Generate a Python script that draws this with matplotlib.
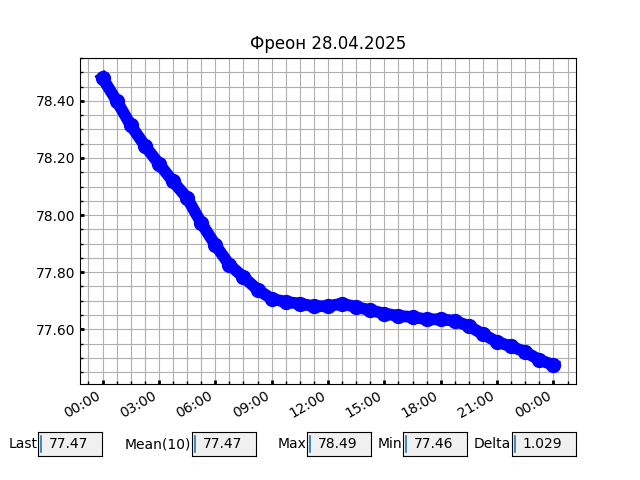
import numpy as np
import pandas as pd
import matplotlib
matplotlib.use("Agg")
import matplotlib.pyplot as plt
import matplotlib.dates as mdates
from matplotlib.ticker import AutoMinorLocator, FormatStrFormatter

# readings every 45 minutes, 28.04.2025 00:00 -> 29.04.2025 00:00
times = pd.date_range("2025-04-28 00:00", periods=33, freq="45min")
freon = [78.48, 78.40, 78.315, 78.243, 78.18, 78.118, 78.06, 77.973, 77.896,
         77.826, 77.783, 77.739, 77.707, 77.696, 77.69, 77.681, 77.681, 77.69,
         77.678, 77.667, 77.655, 77.647, 77.643, 77.635, 77.635, 77.63, 77.611,
         77.583, 77.556, 77.54, 77.521, 77.493, 77.475]

stat_names = ["Last", "Mean(10)", "Max", "Min", "Delta"]
stat_values = ["77.47", "77.47", "78.49", "77.46", "1.029"]
stat_left = [0.06, 0.30, 0.48, 0.63, 0.80]

fig = plt.figure(figsize=(6.4, 4.8), dpi=100)
ax = fig.add_subplot(111)

ax.plot(times, freon, "o-", color="blue", lw=8.5, ms=10)

# y range follows the raw min / max of the day
lo, hi = float(stat_values[3]), float(stat_values[2])
pad = 0.05 * (hi - lo)
ax.set_ylim(lo - pad, hi + pad + 0.01)

ax.set_title("Фреон 28.04.2025")
ax.yaxis.set_major_formatter(FormatStrFormatter("%.2f"))
ax.xaxis.set_major_locator(mdates.HourLocator(byhour=range(0, 24, 3)))
ax.xaxis.set_major_formatter(mdates.DateFormatter("%H:%M"))
ax.xaxis.set_minor_locator(AutoMinorLocator(4))
ax.yaxis.set_minor_locator(AutoMinorLocator(4))
ax.tick_params(which="major", direction="in", length=3, width=2)
ax.tick_params(which="minor", direction="in", length=2, width=1)
ax.grid(which="both", color="#b0b0b0", lw=0.8)
ax.set_axisbelow(True)
fig.autofmt_xdate()

# value boxes under the chart
for name, val, left in zip(stat_names, stat_values, stat_left):
    bx = fig.add_axes([left, 0.05, 0.1, 0.05])
    bx.set_facecolor("#f0f0f0")
    bx.set_xticks([])
    bx.set_yticks([])
    bx.set_xlim(0, 1)
    bx.set_ylim(0, 1)
    bx.plot([0.045, 0.045], [0.17, 0.83], color="C0", lw=1.2)
    bx.text(0.17, 0.5, val, va="center", ha="left", fontsize=10)
    bx.text(-0.015, 0.5, name, va="center", ha="right", fontsize=10,
            transform=bx.transAxes)

fig.savefig("out.png", dpi=100)
